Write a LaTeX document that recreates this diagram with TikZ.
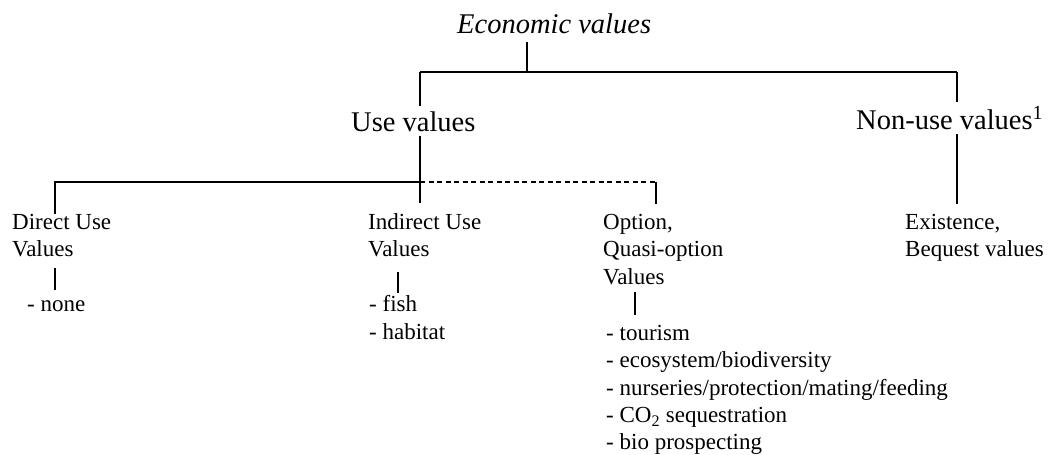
\documentclass[tikz,border=0pt]{standalone}
\usepackage{fontspec}
\setmainfont{Liberation Serif}
\usetikzlibrary{backgrounds}
\begin{document}
\begin{tikzpicture}[x=1pt,y=-1pt,
  big/.style={anchor=base west,inner sep=0pt,font=\fontsize{28.5}{34}\selectfont},
  small/.style={anchor=base west,inner sep=0pt,font=\fontsize{23}{27.5}\selectfont},
  cover/.style={fill=white,inner ysep=5pt},
  link/.style={line width=1.1pt},
  optlink/.style={link,dash pattern=on 5pt off 3.5pt}]
\useasboundingbox (0,0) rectangle (1050,455);
% top level
\node[big] (econ) at (457,33) {\itshape Economic values};
\node[big,cover] (use) at (351,131) {Use values};
\node[big,cover] (nonuse) at (856,129) {Non-use values\textsuperscript{1}};
% second level
\node[small] (dir1) at (12,229) {Direct Use};
\node[small] (dir2) at (12,256.5) {Values};
\node[small] (none) at (27,311.7) {- none};
\node[small] (ind1) at (368,229) {Indirect Use};
\node[small] (ind2) at (368,256.5) {Values};
\node[small] (fish) at (369,311.7) {- fish};
\node[small] (hab) at (369,339) {- habitat};
\node[small] (opt1) at (603,229) {Option,};
\node[small] (opt2) at (603,256.5) {Quasi-option};
\node[small] (opt3) at (603,284) {Values};
\node[small] (tour) at (606,340) {- tourism};
\node[small] (eco) at (606,367.5) {- ecosystem/biodiversity};
\node[small] (nur) at (606,395) {- nurseries/protection/mating/feeding};
\node[small] (co2) at (606,422.5) {- CO\textsubscript{2} sequestration};
\node[small] (bio) at (606,449.5) {- bio prospecting};
\node[small] (ex1) at (905,229) {Existence,};
\node[small] (ex2) at (905,256.5) {Bequest values};
% junctions
\coordinate (top) at (527,72);
\coordinate (ul) at (420,72);
\coordinate (ur) at (957,72);
\coordinate (m) at (420,182);
\coordinate (dl) at (55,182);
\coordinate (dr) at (656,182);
\coordinate (ix) at (398,0);
\coordinate (ox) at (635,0);
\begin{pgfonlayer}{background}
\draw[link] ([yshift=-9pt]econ.base -| top) -- (top);
\draw[link] (ul) -- (ur);
\draw[link] (ul) -- (m) -- ([yshift=10pt]ind1.north -| m);
\draw[link] (m) -- (dl) -- (dir1.north -| dl);
\draw[optlink] (m) -- (dr);
\draw[link] (dr) -- ([yshift=10pt]opt1.north -| dr);
\draw[link] (ur) -- ([yshift=10pt]ex1.north -| ur);
\draw[link] ([yshift=-11.5pt]dir2.base -| dl) -- ([yshift=21.7pt]none.base -| dl);
\draw[link] ([yshift=-15.5pt]ind2.base -| ix) -- ([yshift=18.7pt]fish.base -| ix);
\draw[link] ([yshift=-8pt]opt3.base -| ox) -- ([yshift=25pt]tour.base -| ox);
\end{pgfonlayer}
\end{tikzpicture}
\end{document}
